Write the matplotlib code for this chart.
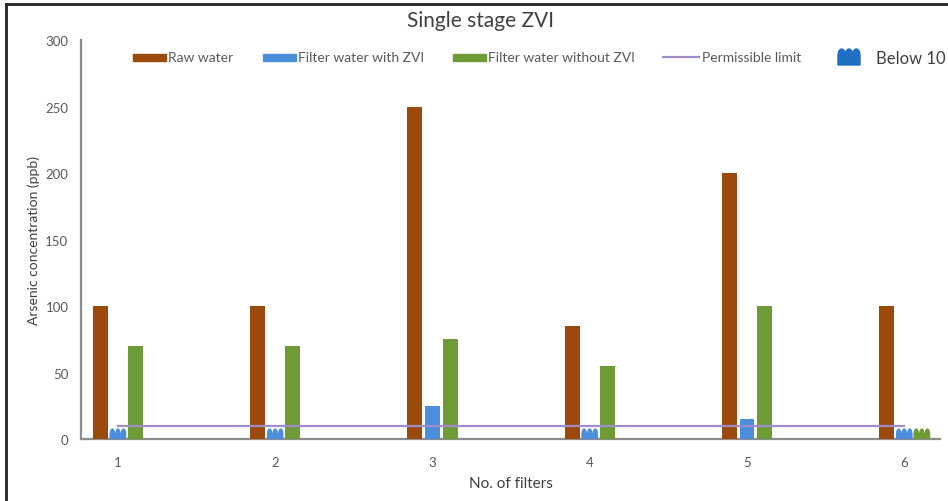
import numpy as np
import matplotlib
matplotlib.use("Agg")
import matplotlib.pyplot as plt
from matplotlib.patches import Rectangle, Polygon
from matplotlib.lines import Line2D

plt.rcParams['font.family'] = ['Lato', 'DejaVu Sans']

# Arsenic concentration (ppb) per filter
filters = [1, 2, 3, 4, 5, 6]
raw_water = [100, 100, 250, 85, 200, 100]
with_zvi = [5, 5, 25, 5, 15, 5]
without_zvi = [70, 70, 75, 55, 100, 5]
permissible_limit = 10
below_limit = 10

c_raw = '#9C4A0B'
c_zvi = '#4A8EDC'
c_nozvi = '#6F9B37'
c_limit = '#A08BCB'
text_grey = '#595959'

fig = plt.figure(figsize=(9.48, 5.02), dpi=100)
ax = fig.add_axes([0.0854, 0.1235, 0.9066, 0.7948])

x = np.array(filters, dtype=float)
width = 0.095
offset = 0.112


def bumpy_top(xs_left, w, base, bump, n=61):
    # outline of three rounded bumps sitting on a flat block
    t = np.linspace(0, 1, n)
    xs = xs_left + t * w
    ys = base + bump * np.abs(np.sin(np.pi * 3 * t)) ** 0.45
    return xs, ys


def bumpy_bar(ax, xc, h, color, w):
    # short bar drawn for values below the limit
    xs, ys = bumpy_top(xc - w / 2, w, h * 0.8, h * 0.8)
    verts = [(xc - w / 2, 0)] + list(zip(xs, ys)) + [(xc + w / 2, 0)]
    ax.add_patch(Polygon(verts, closed=True, facecolor=color, edgecolor='none', zorder=3))


for xi, v in zip(x - offset, raw_water):
    ax.bar(xi, v, width=width, color=c_raw, zorder=3)

for series, dx, col in [(with_zvi, 0, c_zvi), (without_zvi, offset, c_nozvi)]:
    for xi, v in zip(x + dx, series):
        if v < below_limit:
            bumpy_bar(ax, xi, v, col, width * 1.12)
        else:
            ax.bar(xi, v, width=width, color=col, zorder=3)

ax.plot([filters[0], filters[-1]], [permissible_limit] * 2, color=c_limit, lw=1.6, zorder=4)

ax.set_xlim(0.765, 6.23)
ax.set_ylim(0, 300)
ax.set_yticks(range(0, 301, 50))
ax.set_xticks(filters)
ax.tick_params(length=0, colors=text_grey, labelsize=9.5)
ax.tick_params(axis='x', pad=12)
ax.tick_params(axis='y', pad=9)
for s in ['top', 'right']:
    ax.spines[s].set_visible(False)
for s in ['left', 'bottom']:
    ax.spines[s].set_color('#8C8C8C')
    ax.spines[s].set_linewidth(1.6)

ax.set_xlabel('No. of filters', fontsize=11, color='#404040', labelpad=6)
ax.set_ylabel('Arsenic concentration (ppb)', fontsize=10, color='#404040', labelpad=4)
fig.text(0.507, 0.958, 'Single stage ZVI', ha='center', va='center',
         fontsize=15, color='#404040')

# legend row
W, H = 948, 502
ly = 1 - 58 / H
items = [(133, c_raw, 'Raw water'), (263, c_zvi, 'Filter water with ZVI'),
         (453, c_nozvi, 'Filter water without ZVI')]
for px, col, label in items:
    fig.add_artist(Rectangle((px / W, ly - 3.5 / H), 33 / W, 7 / H,
                             transform=fig.transFigure, color=col))
    fig.text((px + 35) / W, ly, label, fontsize=10, color=text_grey, va='center')
fig.add_artist(Line2D([663 / W, 699 / W], [ly, ly], transform=fig.transFigure,
                      color=c_limit, lw=1.6))
fig.text(702 / W, ly, 'Permissible limit', fontsize=10, color=text_grey, va='center')

ix, iy = bumpy_top(838, 22, 10, 6)
icon = ([(838 / W, 1 - 66 / H)]
        + [(a / W, 1 - (66 - b) / H) for a, b in zip(ix, iy)]
        + [(860 / W, 1 - 66 / H)])
fig.add_artist(Polygon(icon, closed=True, transform=fig.transFigure, color='#1F6FC5'))
fig.text(876 / W, 1 - 59 / H, 'Below 10', fontsize=12, color='#404040', va='center')

# outer frame
fig.add_artist(Line2D([6 / W, 6 / W], [0, 1 - 5 / H], transform=fig.transFigure, color='#222222', lw=2))
fig.add_artist(Line2D([6 / W, 1], [1 - 5 / H, 1 - 5 / H], transform=fig.transFigure, color='#222222', lw=2))

fig.savefig('out.png', dpi=100)
